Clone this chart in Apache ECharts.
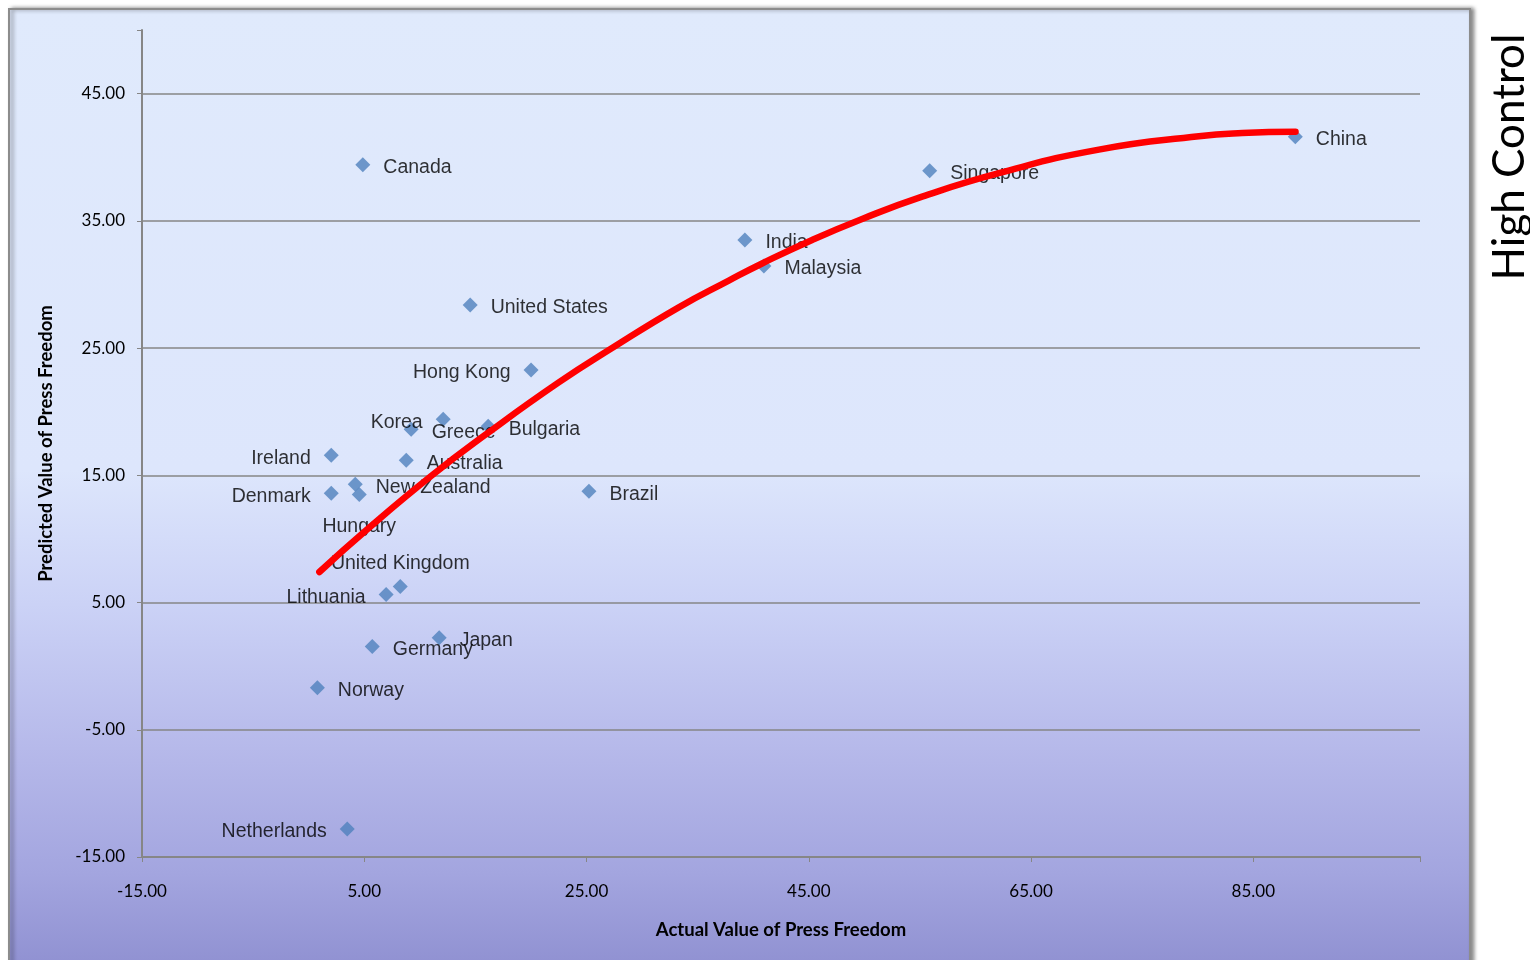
<!DOCTYPE html>
<html>
<head>
<meta charset="utf-8">
<script src="https://cdn.jsdelivr.net/npm/echarts@6/dist/echarts.min.js"></script>
<style>html,body{margin:0;padding:0;background:#fff;}#c{width:1530px;height:960px;}</style>
</head>
<body>
<div id="c"></div>
<script>
// Countries (scatter points)
const countries = ['Canada','Singapore','China','India','Malaysia','United States','Hong Kong','Korea','Greece','Bulgaria','Ireland','Australia','Denmark','New Zealand','Hungary','Brazil','United Kingdom','Lithuania','Japan','Germany','Norway','Netherlands'];
const actualValues = [4.87,55.88,88.78,39.25,40.96,14.53,20.01,12.10,9.22,16.15,2.03,8.78,2.03,4.19,4.55,25.22,8.24,6.97,11.74,5.72,0.78,3.47];
const predictedValues = [39.41,38.94,41.61,33.50,31.46,28.39,23.27,19.41,18.62,18.86,16.57,16.18,13.58,14.29,13.50,13.74,6.26,5.63,2.24,1.54,-1.69,-12.80];

// Red trend curve
const trendX = [0.96,5.2,11.1,16.0,22.5,27.3,33.3,37.8,40.8,45.3,49.8,55.2,62.1,71.1,80.1,84.0,88.8];
const trendY = [7.4,10.7,15.0,18.25,22.3,25.0,28.2,30.3,31.65,33.5,35.15,36.9,38.75,40.6,41.65,41.9,42.0];

// Axis ticks
const xTicks = [-15,5,25,45,65,85];
const yTicks = [-15,-5,5,15,25,35,45];

// Label placement (style, kept separate from data)
const labelPos = {
  'Hong Kong':'left','Korea':'left','Ireland':'left','Denmark':'left','Lithuania':'left','Netherlands':'left',
  'Hungary':'bottom','United Kingdom':'top'
};

const chart = echarts.init(document.getElementById('c'));
const scatterData = countries.map((n,i)=>{
  const pos = labelPos[n] || 'right';
  return {
    name:n, value:[actualValues[i],predictedValues[i]],
    label:{position:pos, distance: pos==='bottom'?12:(pos==='top'?8:13), offset:[0,3]}
  };
});
const lineData = trendX.map((x,i)=>[x,trendY[i]]);

const option = {
  animation:false,
  graphic:[
    {type:'rect', z:-10, shape:{x:9,y:9,width:1461,height:960},
     style:{fill:new echarts.graphic.LinearGradient(0,0,0,1,[
       {offset:0,color:'#e0eafc'},{offset:0.48,color:'#dde6fc'},{offset:0.62,color:'#cbd2f6'},
       {offset:0.77,color:'#b6b9ea'},{offset:0.9,color:'#a3a5df'},{offset:1,color:'#8f90d1'}]),
       stroke:'#8c8c8c', lineWidth:2, shadowColor:'rgba(0,0,0,0.45)', shadowBlur:4, shadowOffsetX:3, shadowOffsetY:0}},
    {type:'text', x:1510, y:157, rotation:Math.PI/2,
     style:{text:'High Control', font:'44px Lato', fill:'#000', textAlign:'center', textVerticalAlign:'middle'}}
  ],
  grid:{left:142, right:110, top:30, bottom:103},
  xAxis:{
    type:'value', min:-15, max:100, interval:20,
    name:'Actual Value of Press Freedom', nameLocation:'middle', nameGap:64,
    nameTextStyle:{fontFamily:'Lato', fontWeight:'bold', fontSize:18.5, color:'#000'},
    axisLine:{show:true, onZero:false, lineStyle:{color:'#868686', width:2}},
    axisTick:{show:true, length:5, lineStyle:{color:'#868686'}},
    splitLine:{show:false},
    axisLabel:{margin:26, fontFamily:'Lato', fontSize:17, color:'#000',
      formatter:v=> xTicks.indexOf(v)>=0 ? v.toFixed(2) : ''}
  },
  yAxis:{
    type:'value', min:-15, max:50, interval:10,
    name:'Predicted Value of Press Freedom', nameLocation:'middle', nameGap:86,
    nameTextStyle:{fontFamily:'Lato', fontWeight:'bold', fontSize:18.5, color:'#000'},
    axisLine:{show:true, onZero:false, lineStyle:{color:'#868686', width:2}},
    axisTick:{show:true, length:5, lineStyle:{color:'#868686'}},
    splitLine:{show:true, showMaxLine:false, lineStyle:{color:'#868686', width:1.5}},
    axisLabel:{margin:17, fontFamily:'Lato', fontSize:17, color:'#000',
      formatter:v=> yTicks.indexOf(v)>=0 ? v.toFixed(2) : ''}
  },
  series:[
    {type:'scatter', z:2, symbol:'diamond', symbolSize:15,
     itemStyle:{color:'#4f81bd'},
     label:{show:true, formatter:'{b}', fontFamily:'Liberation Sans, Arial', fontSize:19.5, color:'#000'},
     data:scatterData},
    {type:'line', z:5, data:lineData, smooth:0.5, showSymbol:false, symbol:'none',
     lineStyle:{color:'#ff0000', width:6.5, cap:'round'}}
  ]
};
chart.setOption(option);
</script>
</body>
</html>
